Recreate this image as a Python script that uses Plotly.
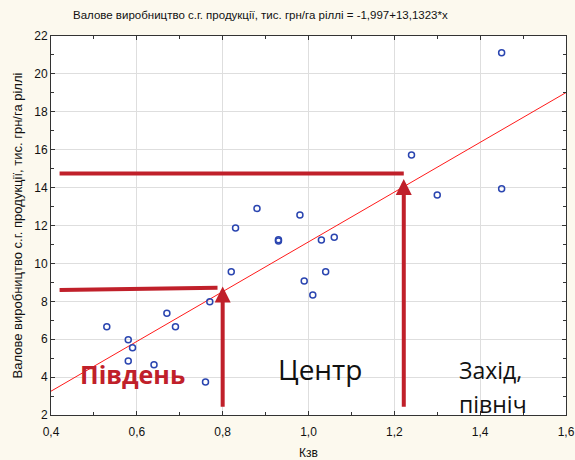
import numpy as np
import plotly.graph_objects as go

# Regional observations: Кзв vs gross agricultural output (thous. UAH per ha of arable land)
kzv = [0.53, 0.58, 0.59, 0.58, 0.64, 0.67, 0.69, 0.76, 0.77, 0.82, 0.83, 0.88,
       0.93, 0.93, 0.98, 0.99, 1.01, 1.03, 1.04, 1.06, 1.24, 1.30, 1.45, 1.45]
output = [6.66, 5.97, 5.55, 4.85, 4.65, 7.37, 6.66, 3.74, 7.98, 9.56, 11.87, 12.90,
          11.25, 11.18, 12.55, 9.07, 8.33, 11.23, 9.56, 11.38, 15.72, 13.61, 13.94, 21.12]

# Fitted linear model
intercept = -1.997
slope = 13.1323

# Zone boundaries on Кзв and the matching output levels
zone_kzv = [0.80, 1.222]
zone_level = [8.65, 14.75]

x_range = [0.4, 1.6]
y_range = [2, 22]

RED = "#c0202a"
TEXT_FONT = "Liberation Sans Narrow, Arial Narrow, Liberation Sans, Arial, sans-serif"
LABEL_FONT = "Open Sans, sans-serif"

W, H = 575, 460
M = dict(l=51, r=9, t=36, b=45)

fig = go.Figure()

fit_x = np.array(x_range)
fig.add_trace(go.Scatter(
    x=fit_x, y=intercept + slope * fit_x, mode="lines",
    line=dict(color="#ff1a1a", width=1), hoverinfo="skip", showlegend=False,
))

fig.add_trace(go.Scatter(
    x=kzv, y=output, mode="markers",
    marker=dict(symbol="circle-open", size=6, color="#2a45b0", line=dict(width=1.5)),
    showlegend=False,
))

# Horizontal level bars
fig.add_shape(type="line", xref="x", yref="y", x0=0.42, x1=zone_kzv[0] - 0.012,
              y0=zone_level[0] - 0.05, y1=zone_level[0] + 0.07,
              line=dict(color=RED, width=4))
fig.add_shape(type="line", xref="x", yref="y", x0=0.42, x1=zone_kzv[1],
              y0=zone_level[1], y1=zone_level[1],
              line=dict(color=RED, width=4))

# Vertical arrows pointing to the regression line
for xv, top in zip(zone_kzv, [8.78, 14.45]):
    fig.add_annotation(
        x=xv, y=top, ax=xv, ay=2.35, xref="x", yref="y", axref="x", ayref="y",
        showarrow=True, arrowhead=2, arrowsize=0.8, arrowwidth=4, arrowcolor=RED, text="",
    )

fig.add_annotation(x=0.59, y=4.15, xref="x", yref="y", text="<b>Південь</b>", showarrow=False,
                   font=dict(family=LABEL_FONT, size=25, color=RED))
fig.add_annotation(x=1.026, y=4.45, xref="x", yref="y", text="Центр", showarrow=False,
                   font=dict(family=LABEL_FONT, size=28, color="#111111"))
fig.add_annotation(x=1.345, y=4.35, xref="x", yref="y", text="Захід,", showarrow=False,
                   xanchor="left", font=dict(family=LABEL_FONT, size=23, color="#111111"))
fig.add_annotation(x=1.345, y=2.6, xref="x", yref="y", text="північ", showarrow=False,
                   xanchor="left", font=dict(family=LABEL_FONT, size=23, color="#111111"))

# Chart heading, positioned in pixels above the plot area
pw = W - M["l"] - M["r"]
ph = H - M["t"] - M["b"]
fig.add_annotation(
    x=(71 - M["l"]) / pw, y=1 + (M["t"] - 15) / ph, xref="paper", yref="paper", showarrow=False,
    text="Валове виробництво с.г. продукції, тис. грн/га ріллі = -1,997+13,1323*x",
    font=dict(family=TEXT_FONT, size=11.5, color="#111111"), xanchor="left", yanchor="middle",
)

axis_common = dict(
    showline=True, linecolor="#333333", linewidth=1, mirror="allticks",
    ticks="inside", ticklen=4, tickcolor="#333333",
    showgrid=True, gridcolor="#dedede", gridwidth=1, zeroline=False,
    tickfont=dict(family=TEXT_FONT, size=12, color="#111111"),
    automargin=False,
)

fig.update_xaxes(range=x_range, dtick=0.2, tick0=0.4, tickformat=".1f", ticklabelstandoff=6,
                 title=dict(text="Кзв", font=dict(family=TEXT_FONT, size=12, color="#111111"), standoff=14),
                 minor=dict(ticks="inside", ticklen=3, dtick=0.1, tickcolor="#333333", showgrid=False),
                 **axis_common)
fig.update_yaxes(range=y_range, dtick=2, tick0=2,
                 title=dict(text="Валове виробництво с.г. продукції, тис. грн/га ріллі",
                            font=dict(family=TEXT_FONT, size=13, color="#111111"), standoff=8),
                 minor=dict(ticks="inside", ticklen=3, dtick=1, tickcolor="#333333", showgrid=False),
                 **axis_common)

fig.update_layout(
    width=W, height=H,
    margin=M,
    paper_bgcolor="#fcf9ee", plot_bgcolor="#ffffff",
    separators=", ",
    showlegend=False,
)

fig.write_html("out.html")
